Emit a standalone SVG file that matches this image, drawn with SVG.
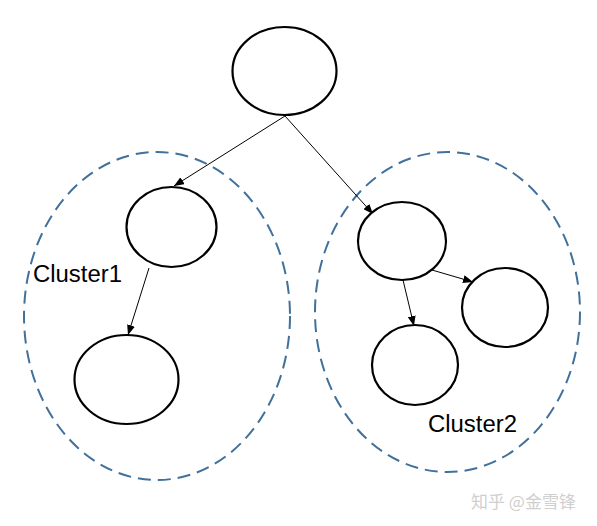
<svg xmlns="http://www.w3.org/2000/svg" width="597" height="526" viewBox="0 0 597 526">
<style>
.node{fill:#fff;stroke:#000;stroke-width:2.2}
.cluster{fill:none;stroke:#41709b;stroke-width:2;stroke-dasharray:13 7}
.edge{stroke:#000;stroke-width:1;fill:none;marker-end:url(#arr)}
.lbl{font-family:"Liberation Sans",Arial,sans-serif;font-size:23px;fill:#000}
.wm{font-family:"Noto Sans CJK SC","Liberation Sans",sans-serif;font-size:17px;fill:#cfcfcf}
</style>
<defs>
<marker id="arr" markerUnits="userSpaceOnUse" markerWidth="10" markerHeight="8" refX="10" refY="4" orient="auto">
<path d="M0,0 L10,4 L0,8 z" fill="#000"/>
</marker>
</defs>
<rect width="597" height="526" fill="#fff"/>
<g id="cluster1"><ellipse class="cluster" cx="157" cy="316" rx="133" ry="164"/><text class="lbl" x="33" y="282" textLength="89" lengthAdjust="spacingAndGlyphs">Cluster1</text></g>
<g id="cluster2"><ellipse class="cluster" cx="447.5" cy="312" rx="132.5" ry="160"/><text class="lbl" x="428" y="432" textLength="89" lengthAdjust="spacingAndGlyphs">Cluster2</text></g>
<g id="connectors">
<line class="edge" x1="285" y1="116" x2="174" y2="186"/>
<line class="edge" x1="285" y1="116" x2="373" y2="214"/>
<line class="edge" x1="149" y1="268" x2="128" y2="335"/>
<line class="edge" x1="403" y1="280" x2="414" y2="326"/>
<line class="edge" x1="432" y1="270" x2="473" y2="282"/>
</g>
<g id="root"><ellipse class="node" cx="284.5" cy="71" rx="52" ry="44"/></g>
<g id="c1a"><ellipse class="node" cx="171.5" cy="227" rx="45" ry="40"/></g>
<g id="c1b"><ellipse class="node" cx="126.5" cy="379.5" rx="52" ry="44.5"/></g>
<g id="c2a"><ellipse class="node" cx="402" cy="241" rx="44" ry="39"/></g>
<g id="c2b"><ellipse class="node" cx="505" cy="307.5" rx="43" ry="39.5"/></g>
<g id="c2c"><ellipse class="node" cx="415" cy="365" rx="43" ry="40"/></g>
<text class="wm" x="471" y="508">知乎 @金雪锋</text>
</svg>
